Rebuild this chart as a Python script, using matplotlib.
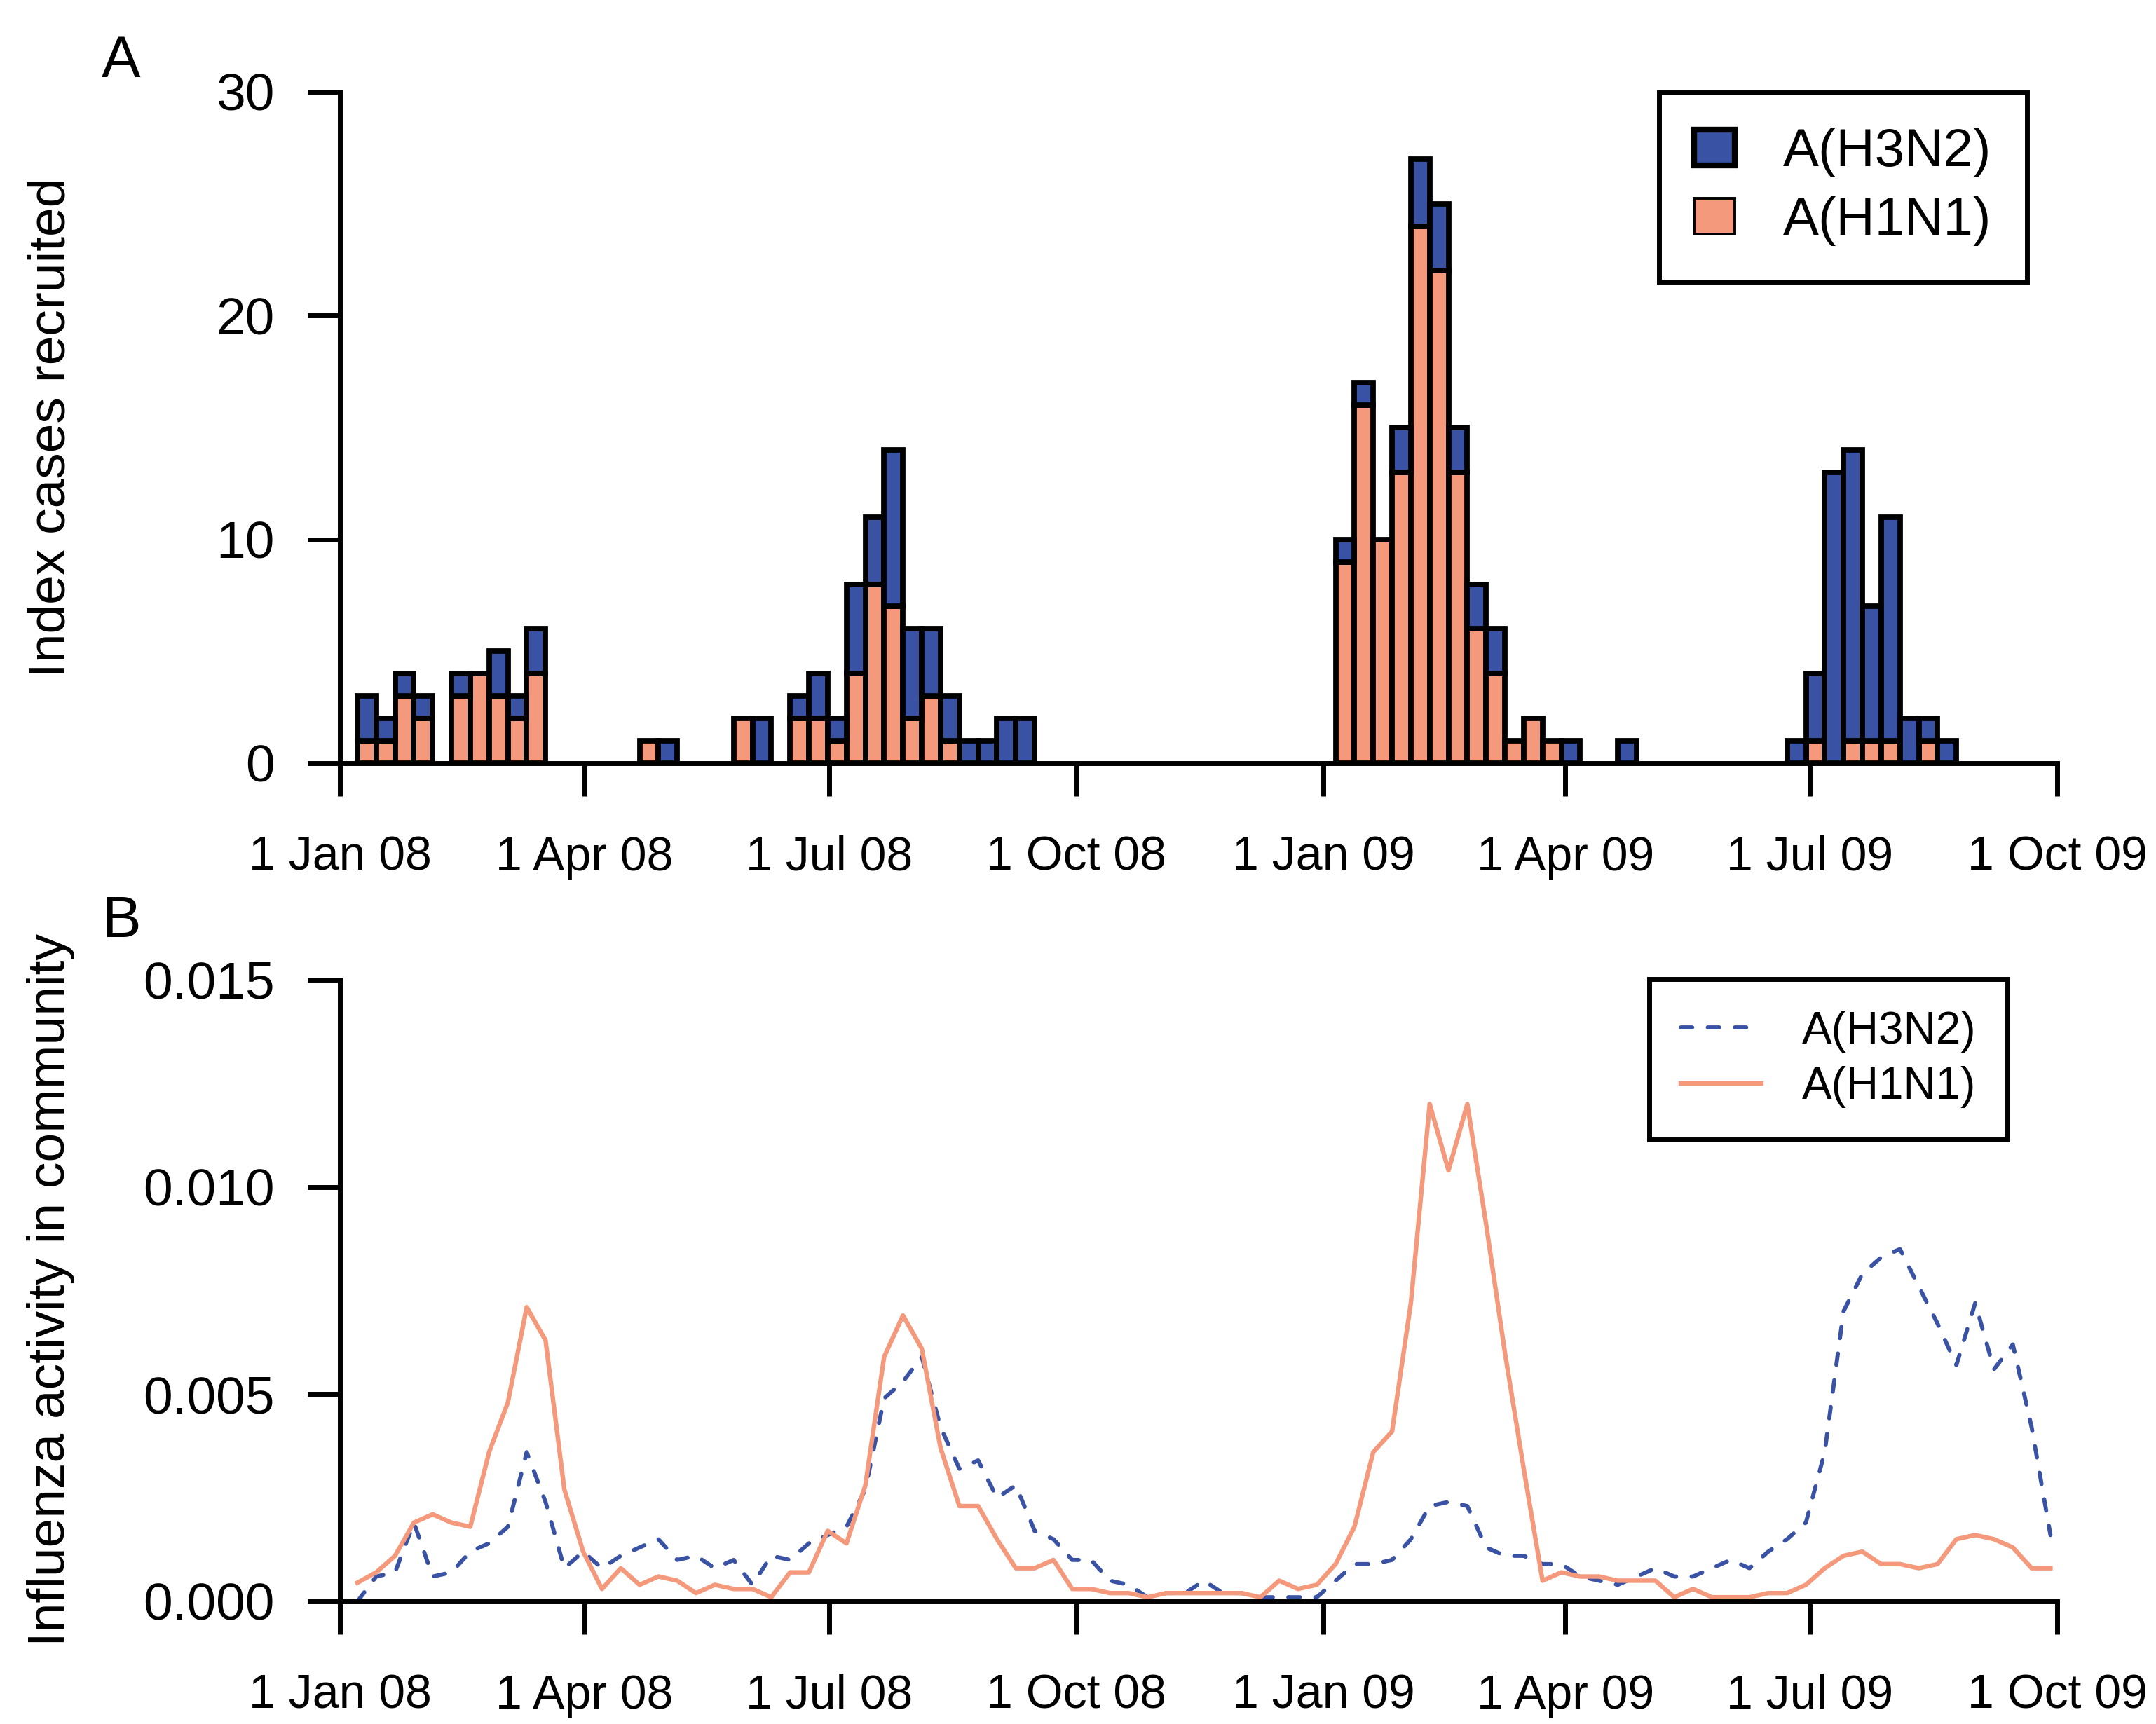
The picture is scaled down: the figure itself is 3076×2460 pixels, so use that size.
import numpy as np
import pandas as pd
import matplotlib
matplotlib.use("Agg")
import matplotlib.pyplot as plt
import matplotlib.dates as mdates
from matplotlib.patches import Patch
from matplotlib.lines import Line2D

plt.rcParams['font.family'] = ['Liberation Sans', 'DejaVu Sans']

# weekly index cases recruited (panel A), weeks starting early Jan 2008
h1n1_cases = [1, 1, 3, 2, 0, 3, 4, 3, 2, 4,
              0, 0, 0, 0, 0, 1, 0, 0, 0, 0,
              2, 0, 0, 2, 2, 1, 4, 8, 7, 2,
              3, 1, 0, 0, 0, 0, 0, 0, 0, 0,
              0, 0, 0, 0, 0, 0, 0, 0, 0, 0,
              0, 0, 9, 16, 10, 13, 24, 22, 13, 6,
              4, 1, 2, 1, 0, 0, 0, 0, 0, 0,
              0, 0, 0, 0, 0, 0, 0, 1, 0, 1,
              1, 1, 0, 1, 0]
h3n2_cases = [2, 1, 1, 1, 0, 1, 0, 2, 1, 2,
              0, 0, 0, 0, 0, 0, 1, 0, 0, 0,
              0, 2, 0, 1, 2, 1, 4, 3, 7, 4,
              3, 2, 1, 1, 2, 2, 0, 0, 0, 0,
              0, 0, 0, 0, 0, 0, 0, 0, 0, 0,
              0, 0, 1, 1, 0, 2, 3, 3, 2, 2,
              2, 0, 0, 0, 1, 0, 0, 1, 0, 0,
              0, 0, 0, 0, 0, 0, 1, 3, 13, 13,
              6, 10, 2, 1, 1]

# weekly influenza activity in the community (panel B)
h3n2_activity = [0.0000, 0.0006, 0.0007, 0.0019, 0.0006, 0.0007, 0.0012, 0.0014, 0.0018, 0.0036,
                 0.0024, 0.0008, 0.0012, 0.0008, 0.0011, 0.0013, 0.0015, 0.0010, 0.0011, 0.0008,
                 0.0010, 0.0004, 0.0011, 0.0010, 0.0014, 0.0016, 0.0018, 0.0027, 0.0049, 0.0053,
                 0.0059, 0.0042, 0.0032, 0.0034, 0.0025, 0.0028, 0.0017, 0.0015, 0.0010, 0.0010,
                 0.0005, 0.0004, 0.0001, 0.0002, 0.0002, 0.0005, 0.0002, 0.0002, 0.0001, 0.0001,
                 0.0001, 0.0001, 0.0005, 0.0009, 0.0009, 0.0010, 0.0015, 0.0023, 0.0024, 0.0023,
                 0.0013, 0.0011, 0.0011, 0.0009, 0.0009, 0.0006, 0.0005, 0.0004, 0.0006, 0.0008,
                 0.0006, 0.0006, 0.0008, 0.0010, 0.0008, 0.0012, 0.0015, 0.0019, 0.0036, 0.0070,
                 0.0079, 0.0083, 0.0085, 0.0076, 0.0067, 0.0057, 0.0072, 0.0056, 0.0062, 0.0042,
                 0.0016]
h1n1_activity = [0.00045, 0.0007, 0.0011, 0.0019, 0.0021, 0.0019, 0.0018, 0.0036, 0.0048, 0.0071,
                 0.0063, 0.0027, 0.0012, 0.0003, 0.0008, 0.0004, 0.0006, 0.0005, 0.0002, 0.0004,
                 0.0003, 0.0003, 0.0001, 0.0007, 0.0007, 0.0017, 0.0014, 0.0028, 0.0059, 0.0069,
                 0.0061, 0.0037, 0.0023, 0.0023, 0.0015, 0.0008, 0.0008, 0.0010, 0.0003, 0.0003,
                 0.0002, 0.0002, 0.0001, 0.0002, 0.0002, 0.0002, 0.0002, 0.0002, 0.0001, 0.0005,
                 0.0003, 0.0004, 0.0009, 0.0018, 0.0036, 0.0041, 0.0072, 0.0120, 0.0104, 0.0120,
                 0.0091, 0.0060, 0.0032, 0.0005, 0.0007, 0.0006, 0.0006, 0.0005, 0.0005, 0.0005,
                 0.0001, 0.0003, 0.0001, 0.0001, 0.0001, 0.0002, 0.0002, 0.0004, 0.0008, 0.0011,
                 0.0012, 0.0009, 0.0009, 0.0008, 0.0009, 0.0015, 0.0016, 0.0015, 0.0013, 0.0008,
                 0.0008]

tick_dates = ['2008-01-01', '2008-04-01', '2008-07-01', '2008-10-01',
              '2009-01-01', '2009-04-01', '2009-07-01', '2009-10-01']
tick_labels = ['1 Jan 08', '1 Apr 08', '1 Jul 08', '1 Oct 08',
               '1 Jan 09', '1 Apr 09', '1 Jul 09', '1 Oct 09']

blue = '#3A52A4'
salmon = '#F4997B'

weeks_bar = pd.date_range('2008-01-07 12:00', periods=len(h1n1_cases), freq='7D')
weeks_line = pd.date_range('2008-01-07 12:00', periods=len(h1n1_activity), freq='7D')
xb = mdates.date2num(weeks_bar.to_pydatetime())
xl = mdates.date2num(weeks_line.to_pydatetime())
xt = mdates.date2num(pd.to_datetime(tick_dates).to_pydatetime())

h1 = np.array(h1n1_cases, dtype=float)
h3 = np.array(h3n2_cases, dtype=float)

W, H = 3076, 2460
fig = plt.figure(figsize=(W / 200, H / 200), dpi=200)

def px_axes(x0, x1, ytop, ybot):
    return fig.add_axes([x0 / W, 1 - ybot / H, (x1 - x0) / W, (ybot - ytop) / H])

axA = px_axes(485, 2935, 131, 1089)
axB = px_axes(485, 2935, 1398, 2285)

# panel A: stacked weekly bars
m1 = h1 > 0
axA.bar(xb[m1], h1[m1], width=7, align='edge', color=salmon,
        edgecolor='black', linewidth=2.8, zorder=2)
m3 = h3 > 0
axA.bar(xb[m3], h3[m3], bottom=h1[m3], width=7, align='edge', color=blue,
        edgecolor='black', linewidth=2.8, zorder=2)

axA.set_ylim(0, 30)
axA.set_yticks([0, 10, 20, 30])

# panel B: community activity
dash = (0, (2.8, 3.8))
axB.plot(xl, h3n2_activity, color=blue, linewidth=2.1,
         linestyle=dash, dash_capstyle='round')
axB.plot(xl, h1n1_activity, color=salmon, linewidth=2.3)
axB.set_ylim(0, 0.015)
axB.set_yticks([0, 0.005, 0.010, 0.015])
axB.set_yticklabels(['0.000', '0.005', '0.010', '0.015'])

for ax in (axA, axB):
    ax.set_xlim(xt[0], xt[-1])
    ax.set_xticks(xt)
    ax.set_xticklabels(tick_labels)
    for s in ('top', 'right'):
        ax.spines[s].set_visible(False)
    for s in ('left', 'bottom'):
        ax.spines[s].set_linewidth(2.5)
    ax.tick_params(axis='y', direction='out', length=16.5, width=2.5,
                   labelsize=27, pad=17)
    ax.tick_params(axis='x', direction='out', length=17, width=2.5,
                   labelsize=24.5, pad=20)
    ax.set_facecolor('none')

legA = axA.legend(handles=[Patch(facecolor=blue, edgecolor='black', linewidth=3.0),
                           Patch(facecolor=salmon, edgecolor='black', linewidth=1.4)],
                  labels=['A(H3N2)', 'A(H1N1)'], loc='upper right',
                  bbox_to_anchor=(0.9824, 0.999), borderaxespad=0,
                  fontsize=27.5, fancybox=False, framealpha=1,
                  handlelength=0.76, handleheight=0.64, handletextpad=0.9,
                  borderpad=0.66, labelspacing=0.35)
legA.get_frame().set_edgecolor('black')
legA.get_frame().set_linewidth(2.5)

legB = axB.legend(handles=[Line2D([], [], color=blue, linewidth=2.1,
                                  linestyle=dash, dash_capstyle='round'),
                           Line2D([], [], color=salmon, linewidth=2.3)],
                  labels=['A(H3N2)', 'A(H1N1)'], loc='upper right',
                  bbox_to_anchor=(0.971, 1.001), borderaxespad=0,
                  fontsize=23, fancybox=False, framealpha=1,
                  handlelength=1.8, handletextpad=0.9,
                  borderpad=0.7, labelspacing=0.3)
legB.get_frame().set_edgecolor('black')
legB.get_frame().set_linewidth(2.5)

fig.text(73 / W, 1 - 610 / H, 'Index cases recruited', rotation=90,
         ha='center', va='center', fontsize=27)
fig.text(73 / W, 1 - 1841 / H, 'Influenza activity in community', rotation=90,
         ha='center', va='center', fontsize=27)
fig.text(173 / W, 1 - 88 / H, 'A', ha='center', va='center', fontsize=30)
fig.text(173 / W, 1 - 1315 / H, 'B', ha='center', va='center', fontsize=30)

fig.savefig('out.png', dpi=200)
